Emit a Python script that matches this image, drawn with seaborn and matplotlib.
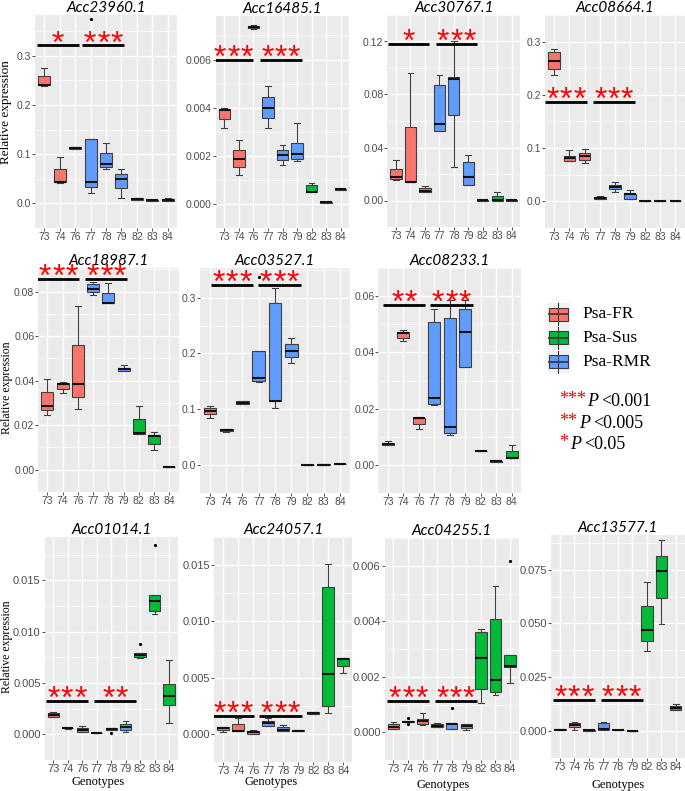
import numpy as np
import pandas as pd
import matplotlib
matplotlib.use("Agg")
import matplotlib.pyplot as plt
from matplotlib.patches import Rectangle
import seaborn as sns

# ---------------- data ----------------
genotypes = ["73", "74", "76", "77", "78", "79", "82", "83", "84"]
groups = ["Psa-FR", "Psa-FR", "Psa-FR", "Psa-RMR", "Psa-RMR", "Psa-RMR", "Psa-Sus", "Psa-Sus", "Psa-Sus"]
group_order = ["Psa-FR", "Psa-Sus", "Psa-RMR"]
group_colors = {"Psa-FR": "#F8766D", "Psa-Sus": "#00BA38", "Psa-RMR": "#619CFF"}

gene_names = ["Acc23960.1", "Acc16485.1", "Acc30767.1", "Acc08664.1",
              "Acc18987.1", "Acc03527.1", "Acc08233.1",
              "Acc01014.1", "Acc24057.1", "Acc04255.1", "Acc13577.1"]

# five-number summaries [min, q1, median, q3, max] per genotype
acc23960 = [[0.239, 0.240, 0.241, 0.260, 0.275], [0.042, 0.0425, 0.043, 0.069, 0.094],
            [0.110, 0.110, 0.112, 0.114, 0.115], [0.021, 0.033, 0.044, 0.130, 0.130],
            [0.070, 0.075, 0.081, 0.102, 0.122], [0.011, 0.032, 0.050, 0.060, 0.070],
            [0.006, 0.007, 0.009, 0.011, 0.012], [0.005, 0.005, 0.006, 0.007, 0.007],
            [0.004, 0.005, 0.006, 0.009, 0.012]]
acc16485 = [[0.00317, 0.00352, 0.00389, 0.00393, 0.00398], [0.00121, 0.00153, 0.00186, 0.00226, 0.00266],
            [0.00728, 0.0073, 0.00735, 0.0074, 0.00742], [0.00314, 0.00357, 0.0040, 0.00446, 0.00489],
            [0.00161, 0.00183, 0.00204, 0.00225, 0.00246], [0.00179, 0.00185, 0.00209, 0.00253, 0.00338],
            [0.0005, 0.0005, 0.00051, 0.00079, 0.00089], [0.00005, 0.00005, 0.00006, 0.00007, 0.00007],
            [0.00059, 0.00059, 0.0006, 0.00061, 0.00061]]
acc30767 = [[0.0155, 0.016, 0.0175, 0.024, 0.0305], [0.0141, 0.0141, 0.0142, 0.0551, 0.096],
            [0.0062, 0.0065, 0.0069, 0.0091, 0.0106], [0.0525, 0.0525, 0.0577, 0.0869, 0.0949],
            [0.0253, 0.0649, 0.0917, 0.093, 0.120], [0.0117, 0.0117, 0.0175, 0.0288, 0.0344],
            [0.0, 0.0, 0.0001, 0.0002, 0.0002], [0.0, 0.0, 0.0003, 0.0037, 0.0065],
            [0.0, 0.0, 0.0001, 0.0001, 0.0002]]
acc08664 = [[0.2366, 0.249, 0.2629, 0.2807, 0.287], [0.0757, 0.0757, 0.0807, 0.0861, 0.096],
            [0.0718, 0.0782, 0.0861, 0.0916, 0.098], [0.005, 0.005, 0.0064, 0.0079, 0.0099],
            [0.0173, 0.0228, 0.0272, 0.0302, 0.0361], [0.005, 0.0052, 0.0137, 0.0139, 0.0223],
            [0.0008, 0.0009, 0.001, 0.0011, 0.0012], [0.0008, 0.0009, 0.001, 0.0011, 0.0012],
            [0.0005, 0.0006, 0.0007, 0.0008, 0.0009]]
acc18987 = [[0.0246, 0.0267, 0.0286, 0.0349, 0.0406], [0.0346, 0.0363, 0.0387, 0.0391, 0.0395],
            [0.0271, 0.0325, 0.0383, 0.0559, 0.0737], [0.0786, 0.0796, 0.081, 0.0832, 0.0842],
            [0.0747, 0.0747, 0.0748, 0.0793, 0.0838], [0.0443, 0.0443, 0.0451, 0.0457, 0.0469],
            [0.0162, 0.0162, 0.0166, 0.0229, 0.0288], [0.0087, 0.0117, 0.0151, 0.0158, 0.017],
            [0.0013, 0.0014, 0.0014, 0.0014, 0.0015]]
acc03527 = [[0.085, 0.0911, 0.0966, 0.1015, 0.106], [0.0595, 0.0606, 0.0627, 0.065, 0.0655],
            [0.109, 0.110, 0.112, 0.114, 0.115], [0.148, 0.1506, 0.156, 0.2035, 0.2035],
            [0.103, 0.1151, 0.1155, 0.2908, 0.317], [0.1833, 0.1931, 0.2046, 0.2166, 0.228],
            [0.0, 0.0, 0.0005, 0.001, 0.001], [0.0008, 0.0009, 0.001, 0.0011, 0.0012],
            [0.0018, 0.002, 0.0022, 0.0024, 0.0025]]
acc08233 = [[0.0069, 0.0069, 0.0074, 0.0079, 0.0084], [0.0439, 0.0452, 0.0468, 0.0473, 0.0479],
            [0.0129, 0.0147, 0.0167, 0.0168, 0.017], [0.0213, 0.0218, 0.0239, 0.0509, 0.0556],
            [0.0108, 0.0113, 0.0135, 0.0521, 0.0586], [0.0347, 0.0347, 0.0473, 0.0553, 0.0586],
            [0.0048, 0.0048, 0.0049, 0.005, 0.005], [0.001, 0.001, 0.0013, 0.0015, 0.0018],
            [0.0023, 0.0023, 0.0025, 0.0049, 0.007]]
acc01014 = [[0.00168, 0.00168, 0.00189, 0.00204, 0.00213], [0.00054, 0.00058, 0.00063, 0.00066, 0.00069],
            [0.00021, 0.00021, 0.00045, 0.00063, 0.00078], [0.0001, 0.00011, 0.00012, 0.00013, 0.00014],
            [0.00045, 0.00045, 0.00054, 0.00066, 0.00066], [0.00021, 0.00042, 0.00069, 0.00102, 0.00126],
            [0.0074, 0.0075, 0.00773, 0.0079, 0.0079], [0.01172, 0.01202, 0.01302, 0.01353, 0.01353],
            [0.00111, 0.00283, 0.00376, 0.00487, 0.00721]]
acc24057 = [[0.00017, 0.00032, 0.00048, 0.00061, 0.00065], [0.00024, 0.00024, 0.00027, 0.00085, 0.00143],
            [0.00002, 0.00002, 0.00015, 0.00027, 0.00034], [0.00073, 0.00073, 0.00099, 0.00114, 0.00143],
            [0.00022, 0.00022, 0.00034, 0.00058, 0.0008], [0.00022, 0.00022, 0.00027, 0.00034, 0.00034],
            [0.00179, 0.00179, 0.00187, 0.00194, 0.00194], [0.00187, 0.00245, 0.00533, 0.01309, 0.01508],
            [0.00539, 0.00604, 0.00665, 0.00675, 0.00675]]
acc04255 = [[0.0001, 0.0001, 0.00018, 0.00028, 0.00038], [0.00036, 0.00036, 0.00038, 0.0004, 0.0004],
            [0.00025, 0.00031, 0.00042, 0.00048, 0.00069], [0.00018, 0.00018, 0.00021, 0.00028, 0.00033],
            [0.0001, 0.0001, 0.00031, 0.00035, 0.00035], [0.00008, 0.00015, 0.00023, 0.00028, 0.00028],
            [0.00104, 0.00156, 0.00268, 0.00363, 0.00371], [0.00134, 0.00144, 0.00188, 0.00408, 0.00527],
            [0.00178, 0.00236, 0.00237, 0.00277, 0.00277]]
acc13577 = [[0.0004, 0.0004, 0.0007, 0.001, 0.001], [0.0004, 0.0017, 0.00285, 0.00384, 0.0044],
            [0.0002, 0.0002, 0.0003, 0.0004, 0.0004], [0.00043, 0.00043, 0.001, 0.00384, 0.0041],
            [0.0003, 0.0003, 0.0004, 0.0005, 0.0005], [0.0, 0.0, 0.0001, 0.0002, 0.0002],
            [0.037, 0.042, 0.0468, 0.0579, 0.0693], [0.0498, 0.0619, 0.0743, 0.0814, 0.089],
            [0.01, 0.01, 0.0107, 0.0118, 0.0128]]
gene_values = [acc23960, acc16485, acc30767, acc08664, acc18987, acc03527, acc08233,
               acc01014, acc24057, acc04255, acc13577]

# outlier points (genotype, value)
outliers = [[("77", 0.374)], [], [], [], [], [("77", 0.336)], [],
            [("78", 0.00012), ("82", 0.00878), ("83", 0.0184)], [],
            [("74", 0.0005), ("74", 0.00028), ("78", 0.00089), ("84", 0.00618)], []]

# significance: bar height and star labels
sig_y = [0.321, 0.006, 0.1183, 0.186, 0.0856, 0.322, 0.057, 0.00325, 0.00155, 0.00114, 0.01437]
sig_labels = [["*", "***"], ["***", "***"], ["*", "***"], ["***", "***"], ["***", "***"],
              ["***", "***"], ["**", "***"], ["***", "**"], ["***", "***"], ["***", "***"], ["***", "***"]]

p_stars = ["***", "**", "*"]
p_texts = ["<0.001", "<0.005", "<0.05"]

yticks = [[0.0, 0.1, 0.2, 0.3], [0.0, 0.002, 0.004, 0.006], [0.0, 0.04, 0.08, 0.12], [0.0, 0.1, 0.2, 0.3],
          [0.0, 0.02, 0.04, 0.06, 0.08], [0.0, 0.1, 0.2, 0.3], [0.0, 0.02, 0.04, 0.06],
          [0.0, 0.005, 0.010, 0.015], [0.0, 0.005, 0.010, 0.015], [0.0, 0.002, 0.004, 0.006],
          [0.0, 0.025, 0.050, 0.075]]
ytick_labels = [["0.0", "0.1", "0.2", "0.3"], ["0.000", "0.002", "0.004", "0.006"],
                ["0.00", "0.04", "0.08", "0.12"], ["0.0", "0.1", "0.2", "0.3"],
                ["0.00", "0.02", "0.04", "0.06", "0.08"], ["0.0", "0.1", "0.2", "0.3"],
                ["0.00", "0.02", "0.04", "0.06"], ["0.000", "0.005", "0.010", "0.015"],
                ["0.000", "0.005", "0.010", "0.015"], ["0.000", "0.002", "0.004", "0.006"],
                ["0.000", "0.025", "0.050", "0.075"]]

# ---------------- layout ----------------
W, H = 685, 791
# panel rectangles in pixels: left, top, right, bottom
rects = [(35.1, 15, 177, 228), (215.6, 16, 349.4, 228), (387.3, 15, 520.4, 227), (545.2, 15, 684.5, 228),
         (38.2, 268, 178.5, 492), (200.2, 268, 349.7, 493), (378.4, 268, 521, 493),
         (44.6, 537, 177.7, 760), (214.3, 537, 352.3, 762), (384.6, 538, 518.8, 760), (551.3, 535, 684.5, 758)]
ylims = [(-0.0163, 0.383), (-0.00031, 0.00781), (-0.0063, 0.1312), (-0.0144, 0.302),
         (-0.0032, 0.0906), (-0.0152, 0.353), (-0.00177, 0.0614),
         (-0.0009, 0.01922), (-0.00071, 0.01562), (-0.00022, 0.0065), (-0.0041, 0.0911)]
sig_spans = [[(-0.5, 2.27), (2.45, 5.19)], [(-0.76, 1.99), (2.45, 5.32)], [(-0.53, 2.30), (2.75, 5.58)],
             [(-0.61, 2.17), (2.53, 5.31)], [(-0.66, 2.10), (2.49, 5.24)], [(0.05, 2.67), (2.98, 5.58)],
             [(-0.32, 2.41), (2.73, 5.48)], [(-0.52, 2.42), (2.82, 5.70)], [(-0.77, 2.05), (2.40, 5.23)],
             [(-0.42, 2.46), (2.85, 5.71)], [(-0.46, 2.41), (2.80, 5.70)]]
tick_sizes = [7.5] * 7 + [8.0] * 4

plt.rcParams["font.family"] = ["Liberation Sans", "DejaVu Sans"]
fig = plt.figure(figsize=(W / 100, H / 100), dpi=100)
fig.patch.set_facecolor("white")

for i, name in enumerate(gene_names):
    l, t, r, b = rects[i]
    ax = fig.add_axes([l / W, 1 - b / H, (r - l) / W, (b - t) / H])
    rows = []
    for g, grp, vals in zip(genotypes, groups, gene_values[i]):
        for v in vals:
            rows.append({"genotype": g, "group": grp, "value": v})
    df = pd.DataFrame(rows)
    ax.set_facecolor("#EBEBEB")
    ax.set_axisbelow(True)
    sns.boxplot(data=df, x="genotype", y="value", hue="group", order=genotypes,
                hue_order=group_order, palette=group_colors, dodge=False, whis=(0, 100),
                width=0.78, linewidth=0.8, linecolor="#404040", showfliers=False, saturation=1,
                medianprops={"color": "#111111", "linewidth": 1.5}, legend=False, ax=ax)
    if outliers[i]:
        odf = pd.DataFrame(outliers[i], columns=["genotype", "value"])
        sns.stripplot(data=odf, x="genotype", y="value", order=genotypes, jitter=False,
                      color="black", size=2.3, ax=ax)
    # grid
    ax.set_xlim(-0.6, 8.6)
    ax.set_ylim(*ylims[i])
    ax.set_yticks(yticks[i])
    ax.set_yticklabels(ytick_labels[i])
    step = yticks[i][1] - yticks[i][0]
    minors = [v + step / 2 for v in [yticks[i][0] - step] + yticks[i]]
    ax.set_yticks(minors, minor=True)
    ax.grid(True, which="major", color="white", linewidth=1.0)
    ax.grid(True, which="minor", axis="y", color="white", linewidth=0.5)
    ax.tick_params(axis="y", which="minor", length=0)
    for s in ax.spines.values():
        s.set_visible(False)
    ax.tick_params(axis="both", which="major", length=2.0, width=0.6, color="#333333",
                   labelcolor="#4D4D4D", labelsize=tick_sizes[i], pad=0.8)
    ax.set_xlabel("")
    ax.set_ylabel("")
    ax.set_title(name, fontsize=11, fontstyle="italic", family=["Lato", "DejaVu Sans"], pad=1.5)
    # significance bars
    for (x0, x1), lab in zip(sig_spans[i], sig_labels[i]):
        ax.plot([x0, x1], [sig_y[i], sig_y[i]], color="black", linewidth=2.0, solid_capstyle="butt",
                zorder=5)
        cx = (x0 + x1) / 2
        n = len(lab)
        for k in range(n):
            off = (k - (n - 1) / 2) * 9.6
            ax.annotate("*", xy=(cx, sig_y[i]), xytext=(off, -5.0), textcoords="offset points",
                        ha="center", va="baseline", fontsize=23, color="red", zorder=6,
                        annotation_clip=False)

# axis titles
serif = ["Liberation Serif", "DejaVu Serif"]
fig.text(6 / W, 1 - 112 / H, "Relative expression", rotation=90, ha="center", va="center",
         fontsize=9.5, family=serif)
fig.text(7 / W, 1 - 388 / H, "Relative expression", rotation=90, ha="center", va="center",
         fontsize=8.5, family=serif)
fig.text(7.5 / W, 1 - 647 / H, "Relative expression", rotation=90, ha="center", va="center",
         fontsize=8.5, family=serif)
for xc, yc in [(98, 782), (271, 782), (443, 785), (618, 785)]:
    fig.text(xc / W, 1 - yc / H, "Genotypes", ha="center", va="center", fontsize=9, family=serif)

# legend
lax = fig.add_axes([0, 0, 1, 1])
lax.set_xlim(0, W)
lax.set_ylim(H, 0)
lax.axis("off")
for grp, cy in zip(group_order, [314, 337.5, 361.5]):
    lax.add_patch(Rectangle((547, cy - 11.5), 23, 23, facecolor="#F2F2F2", edgecolor="none"))
    lax.plot([558.5, 558.5], [cy - 11, cy + 11], color="#3a3a3a", linewidth=0.8)
    lax.add_patch(Rectangle((549, cy - 6.5), 19, 13, facecolor=group_colors[grp],
                            edgecolor="#3a3a3a", linewidth=0.8))
    lax.plot([549, 568], [cy, cy], color="#3a3a3a", linewidth=1.3)
    lax.text(582, cy, grp, ha="left", va="center", fontsize=12.5, family=serif)

for stars, ptxt, px, cy in zip(p_stars, p_texts, [587, 579, 570], [402, 423.5, 444.5]):
    lax.text(559, cy - 2, stars, ha="left", va="center", fontsize=13, family=serif, color="red")
    lax.text(px, cy, "P", ha="left", va="center", fontsize=13, family=serif, fontstyle="italic")
    lax.text(px + 14, cy, ptxt, ha="left", va="center", fontsize=13, family=serif)

fig.savefig("out.png", dpi=100)
